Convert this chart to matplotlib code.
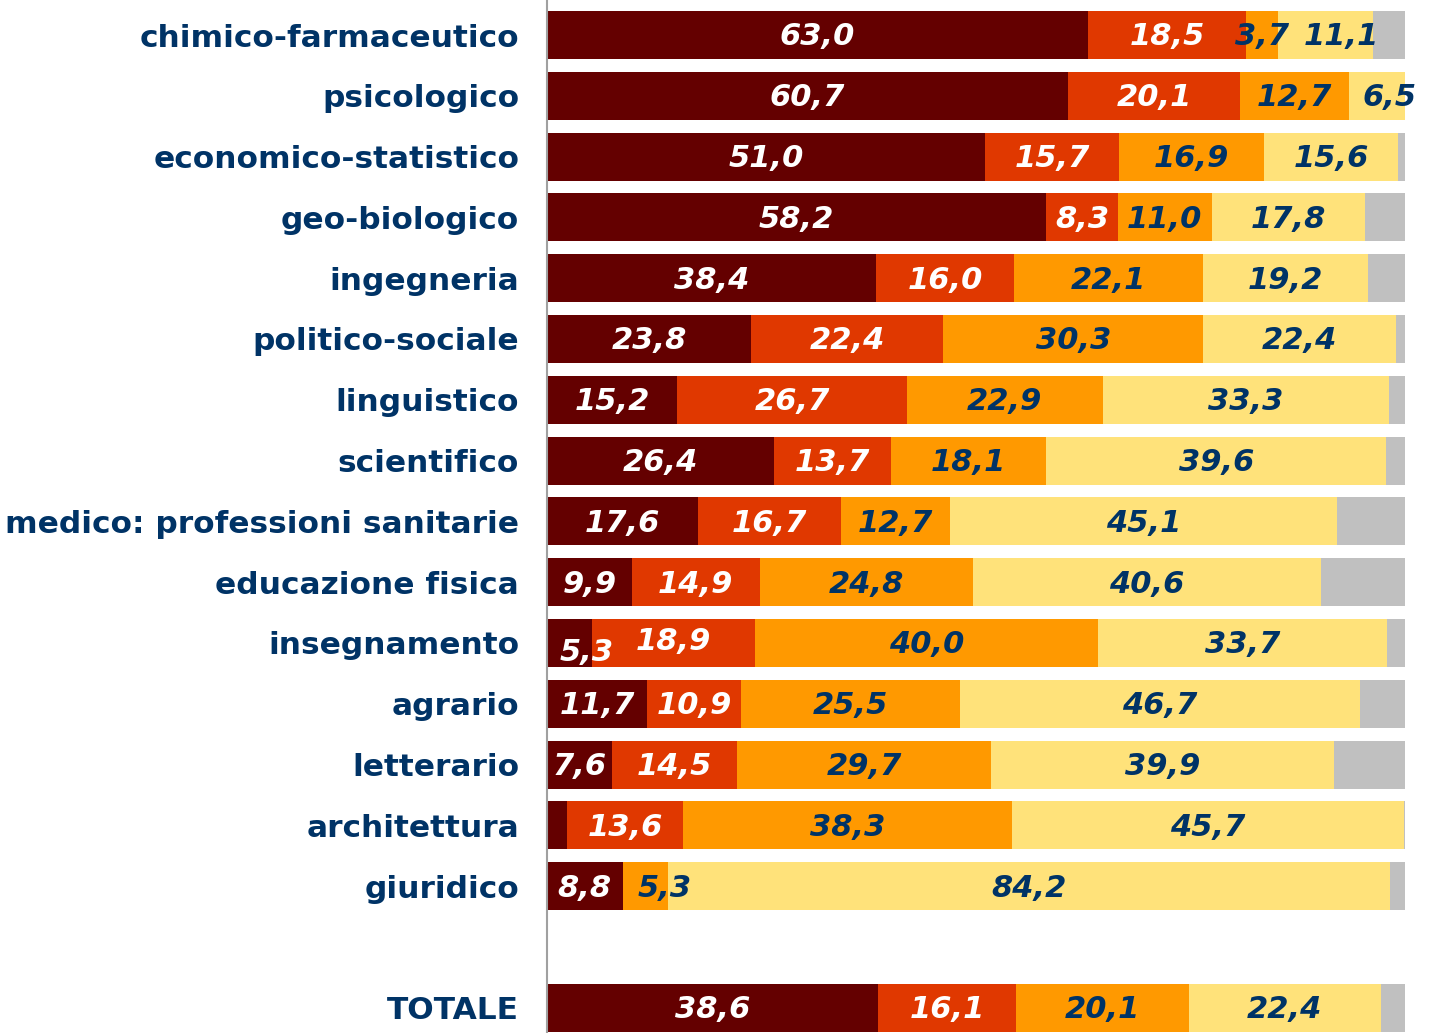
import matplotlib
matplotlib.use("Agg")
import matplotlib.pyplot as plt

categories = ["chimico-farmaceutico", "psicologico", "economico-statistico", "geo-biologico",
              "ingegneria", "politico-sociale", "linguistico", "scientifico",
              "medico: professioni sanitarie", "educazione fisica", "insegnamento", "agrario",
              "letterario", "architettura", "giuridico", "TOTALE"]
positions = [0, 1, 2, 3, 4, 5, 6, 7, 8, 9, 10, 11, 12, 13, 14, 16]
s1 = [63.0, 60.7, 51.0, 58.2, 38.4, 23.8, 15.2, 26.4, 17.6, 9.9, 5.3, 11.7, 7.6, 2.3, 8.8, 38.6]
s2 = [18.5, 20.1, 15.7, 8.3, 16.0, 22.4, 26.7, 13.7, 16.7, 14.9, 18.9, 10.9, 14.5, 13.6, 0.0, 16.1]
s3 = [3.7, 12.7, 16.9, 11.0, 22.1, 30.3, 22.9, 18.1, 12.7, 24.8, 40.0, 25.5, 29.7, 38.3, 5.3, 20.1]
s4 = [11.1, 6.5, 15.6, 17.8, 19.2, 22.4, 33.3, 39.6, 45.1, 40.6, 33.7, 46.7, 39.9, 45.7, 84.2, 22.4]
show_s1 = [True] * 13 + [False] + [True, True]

colors = ["#640000", "#E03800", "#FF9900", "#FFE27A", "#C0C0C0"]
text_colors = ["white", "white", "#003366", "#003366"]
navy = "#003366"

fig = plt.figure(figsize=(14.43, 10.33), dpi=100)
ax = fig.add_axes([547 / 1443, 0, (1405 - 547) / 1443, 1])

rest = [max(0.0, 100 - a - b - c - d) for a, b, c, d in zip(s1, s2, s3, s4)]
series = [s1, s2, s3, s4, rest]
left = [0.0] * len(categories)
bh = 48 / 60.8
for k, vals in enumerate(series):
    ax.barh(positions, vals, left=left, height=bh, color=colors[k], edgecolor="none")
    if k < 4:
        for i, (p, v, l) in enumerate(zip(positions, vals, left)):
            if v <= 0 or (k == 0 and not show_s1[i]):
                continue
            dy = 0.0
            dx = 0.0
            if categories[i] == "insegnamento" and k == 0:
                dy = 0.12
                dx = 2.0
            if categories[i] == "insegnamento" and k == 1:
                dy = -0.05
            if categories[i] == "giuridico" and k == 2:
                dx = 2.3
            if categories[i] == "chimico-farmaceutico" and k == 3:
                dx = 1.8
            if categories[i] == "psicologico" and k == 3:
                dx = 1.4
            ax.text(l + v / 2 + dx, p + dy + 0.03, f"{v:.1f}".replace(".", ","),
                    ha="center", va="center", color=text_colors[k],
                    fontsize=22, fontweight="bold", fontstyle="italic", family="DejaVu Sans")
    left = [a + b for a, b in zip(left, vals)]

ax.set_xlim(0, 100)
ax.set_ylim((1033 - 35) / 60.8, -35 / 60.8)
ax.set_yticks(positions)
ax.set_yticklabels(categories, fontsize=22.5, fontweight="bold", color=navy, family="DejaVu Sans")
ax.tick_params(axis="y", length=0, pad=20)
ax.set_xticks([])
for s in ["top", "right", "bottom"]:
    ax.spines[s].set_visible(False)
ax.spines["left"].set_color("#A0A0A0")
ax.spines["left"].set_linewidth(1.5)
ax.set_facecolor("white")

fig.savefig("out.png", dpi=100, facecolor="white")
